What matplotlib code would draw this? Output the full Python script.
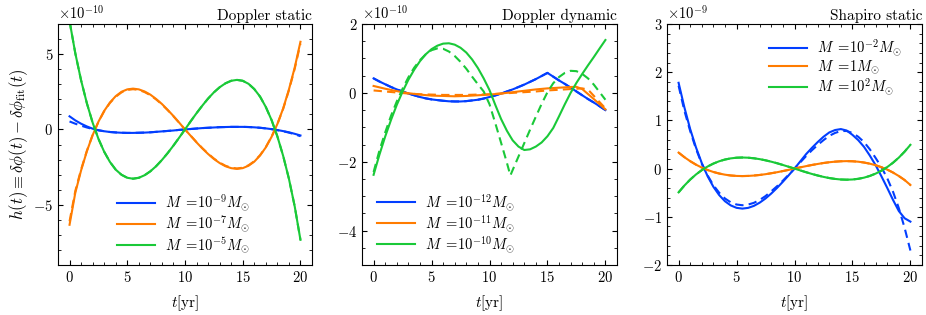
import matplotlib
matplotlib.use("Agg")
import matplotlib.pyplot as plt
from matplotlib.ticker import MultipleLocator

plt.rcParams.update({
    "font.family": "serif",
    "font.serif": ["cmr10", "DejaVu Serif"],
    "mathtext.fontset": "cm",
    "axes.formatter.use_mathtext": True,
    "font.size": 10.5,
    "axes.linewidth": 0.8,
    "xtick.direction": "in",
    "ytick.direction": "in",
    "xtick.top": True,
    "ytick.right": True,
    "xtick.minor.visible": True,
    "ytick.minor.visible": True,
    "xtick.major.size": 3.5,
    "ytick.major.size": 3.5,
    "xtick.minor.size": 2,
    "ytick.minor.size": 2,
})

BLUE, ORANGE, GREEN = "#023eff", "#ff7c00", "#1ac938"

# time grid (yr), half-year steps
t_half = [0, 0.5, 1, 1.5, 2, 2.5, 3, 3.5, 4, 4.5, 5, 5.5, 6, 6.5, 7, 7.5, 8, 8.5, 9, 9.5, 10,
          10.5, 11, 11.5, 12, 12.5, 13, 13.5, 14, 14.5, 15, 15.5, 16, 16.5, 17, 17.5, 18,
          18.5, 19, 19.5, 20]

# ---------------- Panel 1: Doppler static (units 1e-10) ----------------
ds_blue = [0.87, 0.60, 0.38, 0.20, 0.05, -0.05, -0.12, -0.17, -0.20, -0.22, -0.23,
           -0.23, -0.22, -0.21, -0.19, -0.16, -0.13, -0.10, -0.07, -0.03, 0.0,
           0.03, 0.06, 0.09, 0.11, 0.13, 0.15, 0.16, 0.17, 0.17, 0.17,
           0.16, 0.14, 0.11, 0.07, 0.02, -0.04, -0.11, -0.19, -0.29, -0.40]
ds_blue_fit = [0.53, 0.38, 0.25, 0.13, 0.03, -0.06, -0.12, -0.17, -0.20, -0.22, -0.23,
               -0.23, -0.22, -0.21, -0.19, -0.16, -0.13, -0.10, -0.07, -0.03, 0.0,
               0.03, 0.06, 0.09, 0.11, 0.13, 0.15, 0.16, 0.17, 0.17, 0.17,
               0.16, 0.14, 0.11, 0.07, 0.02, -0.05, -0.12, -0.21, -0.32, -0.45]
ds_orange = [-6.33, -4.20, -2.72, -1.45, -0.38, 0.51, 1.23, 1.79, 2.21, 2.50, 2.66,
             2.71, 2.66, 2.52, 2.31, 2.02, 1.69, 1.30, 0.89, 0.45, 0.0,
             -0.43, -0.86, -1.26, -1.63, -1.96, -2.23, -2.44, -2.57, -2.62, -2.57,
             -2.41, -2.14, -1.73, -1.19, -0.49, 0.36, 1.39, 2.65, 4.10, 5.82]
ds_orange_fit = [-6.10, -4.08, -2.66, -1.42, -0.37, 0.50, 1.21, 1.76, 2.17, 2.46, 2.62,
                 2.67, 2.62, 2.48, 2.27, 1.99, 1.66, 1.28, 0.87, 0.44, 0.0,
                 -0.42, -0.84, -1.24, -1.60, -1.93, -2.20, -2.41, -2.54, -2.59, -2.54,
                 -2.38, -2.11, -1.71, -1.17, -0.48, 0.35, 1.36, 2.60, 4.02, 5.70]
ds_green = [7.20, 5.05, 3.26, 1.74, 0.45, -0.62, -1.48, -2.16, -2.67, -3.01, -3.21,
            -3.27, -3.21, -3.04, -2.78, -2.44, -2.03, -1.57, -1.07, -0.54, 0.0,
            0.55, 1.08, 1.58, 2.05, 2.46, 2.80, 3.06, 3.23, 3.29, 3.23,
            3.03, 2.68, 2.18, 1.49, 0.62, -0.46, -1.75, -3.27, -5.10, -7.33]
ds_green_fit = ds_green
ds_labels = [r"$M\;=\!10^{-9}M_{\odot}$", r"$M\;=\!10^{-7}M_{\odot}$", r"$M\;=\!10^{-5}M_{\odot}$"]

# ---------------- Panel 2: Doppler dynamic (units 1e-10) ----------------
t_dyn = [0, 0.5, 1, 1.5, 2, 2.5, 3, 3.5, 4, 4.5, 5, 5.5, 6, 6.5, 7, 7.5, 8, 8.5, 9, 9.5, 10,
         10.5, 11, 11.5, 11.8, 12, 12.5, 13, 13.5, 14, 14.5, 15, 15.5, 16, 16.5, 17, 17.5, 18,
         18.5, 19, 19.5, 20]
dd_blue = [0.42, 0.33, 0.25, 0.17, 0.10, 0.04, -0.02, -0.07, -0.12, -0.16, -0.19,
           -0.21, -0.23, -0.245, -0.25, -0.25, -0.24, -0.22, -0.20, -0.165, -0.12,
           -0.075, -0.02, 0.04, 0.075, 0.10, 0.17, 0.24, 0.32, 0.40, 0.49, 0.58,
           0.47, 0.36, 0.26, 0.15, 0.04, -0.07, -0.18, -0.28, -0.39, -0.50]
dd_blue_fit = dd_blue
dd_orange = [0.20, 0.16, 0.12, 0.085, 0.05, 0.02, -0.01, -0.03, -0.05, -0.065, -0.08,
             -0.085, -0.09, -0.095, -0.10, -0.095, -0.09, -0.08, -0.07, -0.06, -0.05,
             -0.035, -0.02, 0.0, 0.01, 0.02, 0.04, 0.06, 0.08, 0.10, 0.115, 0.13,
             0.14, 0.15, 0.16, 0.17, 0.175, 0.11, -0.035, -0.18, -0.33, -0.48]
dd_orange_fit = [0.07, 0.055, 0.04, 0.025, 0.01, -0.005, -0.02, -0.03, -0.04, -0.045, -0.05,
                 -0.055, -0.06, -0.06, -0.06, -0.06, -0.06, -0.055, -0.05, -0.045, -0.04,
                 -0.03, -0.02, -0.01, -0.005, 0.0, 0.01, 0.02, 0.03, 0.04, 0.055, 0.07,
                 0.08, 0.09, 0.10, 0.11, 0.12, 0.13, 0.094, -0.086, -0.27, -0.45]
dd_green = [-2.38, -1.80, -1.27, -0.79, -0.35, 0.035, 0.38, 0.67, 0.92, 1.12, 1.27,
            1.37, 1.43, 1.44, 1.40, 1.31, 1.17, 0.97, 0.72, 0.42, 0.08,
            -0.35, -0.76, -1.10, -1.27, -1.38, -1.56, -1.66, -1.64, -1.56, -1.44, -1.26,
            -1.02, -0.68, -0.33, 0.0, 0.29, 0.55, 0.80, 1.04, 1.29, 1.535]
dd_green_fit = [-2.30, -1.68, -1.15, -0.67, -0.25, 0.12, 0.45, 0.73, 0.95, 1.12, 1.24,
                1.29, 1.28, 1.20, 1.07, 0.90, 0.70, 0.47, 0.25, 0.04, -0.33,
                -0.88, -1.45, -2.03, -2.40, -2.24, -1.85, -1.46, -1.07, -0.69, -0.32, 0.02,
                0.28, 0.46, 0.58, 0.64, 0.63, 0.55, 0.42, 0.24, 0.02, -0.20]
dd_labels = [r"$M\;=\!10^{-12}M_{\odot}$", r"$M\;=\!10^{-11}M_{\odot}$", r"$M\;=\!10^{-10}M_{\odot}$"]

# ---------------- Panel 3: Shapiro static (units 1e-9) ----------------
ss_blue = [1.78, 1.27, 0.82, 0.44, 0.115, -0.156, -0.377, -0.549, -0.677, -0.764, -0.814,
           -0.83, -0.815, -0.773, -0.706, -0.62, -0.516, -0.399, -0.272, -0.138, 0.0,
           0.15, 0.30, 0.43, 0.55, 0.66, 0.75, 0.80, 0.82, 0.79, 0.70,
           0.59, 0.45, 0.27, 0.07, -0.16, -0.40, -0.65, -0.88, -1.03, -1.10]
ss_blue_fit = [1.72, 1.20, 0.78, 0.41, 0.10, -0.14, -0.345, -0.50, -0.62, -0.70, -0.745,
               -0.76, -0.746, -0.71, -0.65, -0.57, -0.47, -0.365, -0.25, -0.126, 0.0,
               0.13, 0.26, 0.38, 0.49, 0.59, 0.68, 0.74, 0.78, 0.78, 0.74,
               0.66, 0.55, 0.40, 0.22, 0.03, -0.20, -0.48, -0.82, -1.23, -1.70]
ss_orange = [0.332, 0.237, 0.154, 0.082, 0.021, -0.029, -0.07, -0.102, -0.126, -0.143, -0.152,
             -0.155, -0.152, -0.144, -0.132, -0.116, -0.096, -0.075, -0.051, -0.026, 0.0,
             0.026, 0.051, 0.075, 0.096, 0.116, 0.132, 0.144, 0.152, 0.155, 0.152,
             0.143, 0.126, 0.102, 0.07, 0.029, -0.021, -0.082, -0.154, -0.237, -0.34]
ss_orange_fit = ss_orange
ss_green = [-0.493, -0.352, -0.228, -0.122, -0.032, 0.043, 0.104, 0.152, 0.188, 0.212, 0.226,
            0.23, 0.226, 0.214, 0.196, 0.172, 0.143, 0.111, 0.075, 0.038, 0.0,
            -0.038, -0.075, -0.111, -0.143, -0.172, -0.196, -0.214, -0.226, -0.23, -0.226,
            -0.212, -0.188, -0.152, -0.104, -0.043, 0.032, 0.122, 0.228, 0.352, 0.493]
ss_green_fit = ss_green
ss_labels = [r"$M\;=\!10^{-2}M_{\odot}$", r"$M\;=\!1M_{\odot}$", r"$M\;=\!10^{2}M_{\odot}$"]

titles = ["Doppler static", "Doppler dynamic", "Shapiro static"]

fig = plt.figure(figsize=(9.26, 3.15), dpi=100)
W, H = 926, 315
boxes = [(58, 312), (362, 617), (667, 922)]
axes = []
for (l, r) in boxes:
    ax = fig.add_axes([l / W, 1 - 265 / H, (r - l) / W, (265 - 24) / H])
    axes.append(ax)

panels = [
    (t_half, [ds_blue, ds_orange, ds_green], [ds_blue_fit, ds_orange_fit, ds_green_fit], ds_labels, 1e-10),
    (t_dyn, [dd_blue, dd_orange, dd_green], [dd_blue_fit, dd_orange_fit, dd_green_fit], dd_labels, 1e-10),
    (t_half, [ss_blue, ss_orange, ss_green], [ss_blue_fit, ss_orange_fit, ss_green_fit], ss_labels, 1e-9),
]
colors = [BLUE, ORANGE, GREEN]

for ax, (t, sols, fits, labels, scale), title in zip(axes, panels, titles):
    for s, f, c, lab in zip(sols, fits, colors, labels):
        ax.plot(t, [v * scale for v in s], color=c, lw=1.5, label=lab)
        ax.plot(t, [v * scale for v in f], color=c, lw=1.5, ls=(0, (4, 2.5)))
    ax.set_xlim(-1, 21)
    ax.xaxis.set_major_locator(MultipleLocator(5))
    ax.xaxis.set_minor_locator(MultipleLocator(1))
    ax.set_xlabel(r"$t[{\rm yr}]$", fontsize=11, labelpad=6)
    ax.set_title(title, loc="right", pad=3, fontsize=11)
    ax.yaxis.get_offset_text().set_fontsize(10.5)

leg_kw = dict(frameon=False, handlelength=2.6, fontsize=10.5, handletextpad=0.7,
              labelspacing=0.05, borderaxespad=0.3)

axes[0].set_ylim(-9e-10, 7e-10)
axes[0].yaxis.set_major_locator(MultipleLocator(5e-10))
axes[0].yaxis.set_minor_locator(MultipleLocator(1e-10))
axes[0].set_ylabel(r"$h(t)\equiv\delta\phi(t)-\delta\phi_{\rm fit}(t)$", fontsize=12, labelpad=2)
axes[0].legend(loc="lower center", bbox_to_anchor=(0.495, 0.0), **leg_kw)

axes[1].set_ylim(-5e-10, 2e-10)
axes[1].yaxis.set_major_locator(MultipleLocator(2e-10))
axes[1].yaxis.set_minor_locator(MultipleLocator(0.5e-10))
axes[1].legend(loc="lower left", bbox_to_anchor=(0.02, 0.0), **leg_kw)

axes[2].set_ylim(-2e-9, 3e-9)
axes[2].yaxis.set_major_locator(MultipleLocator(1e-9))
axes[2].yaxis.set_minor_locator(MultipleLocator(0.2e-9))
axes[2].legend(loc="upper right", bbox_to_anchor=(0.96, 0.985), **leg_kw)

fig.savefig("out.png", dpi=100)
